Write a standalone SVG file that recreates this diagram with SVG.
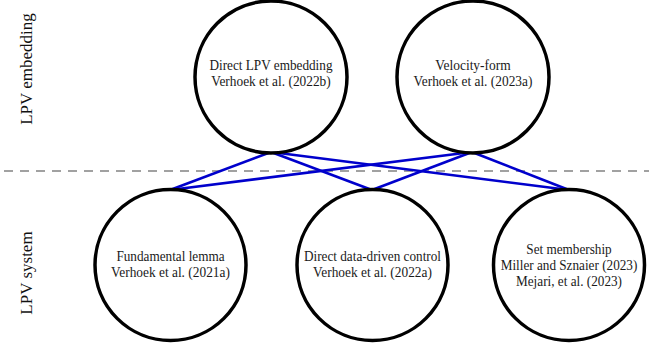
<svg xmlns="http://www.w3.org/2000/svg" width="649" height="347" viewBox="0 0 649 347">
<style>
.node circle { fill: #ffffff; stroke: #000000; stroke-width: 3.5; }
.lbl { font-family: 'Liberation Serif', 'Times New Roman', serif; font-size: 14px; fill: #1a1a1a; text-anchor: middle; }
.edge { stroke: #0000cc; stroke-width: 2.6; fill: none; }
.divider { stroke: #444444; stroke-width: 1.2; stroke-dasharray: 9 7; }
.side { font-family: 'Liberation Serif', 'Times New Roman', serif; font-size: 17px; fill: #111111; text-anchor: middle; }
</style>
<rect width="649" height="347" fill="#ffffff"/>
<line class="divider" x1="4" y1="171" x2="649" y2="171"/>
<text class="side" transform="translate(32,69) rotate(-90)">LPV embedding</text>
<text class="side" transform="translate(32,273) rotate(-90)">LPV system</text>
<g id="connectors">
<line class="edge" x1="271" y1="152" x2="170" y2="190"/>
<line class="edge" x1="271" y1="152" x2="372" y2="190"/>
<line class="edge" x1="271" y1="152" x2="569" y2="190"/>
<line class="edge" x1="472" y1="152" x2="170" y2="190"/>
<line class="edge" x1="472" y1="152" x2="372" y2="190"/>
<line class="edge" x1="472" y1="152" x2="569" y2="190"/>
</g>
<g id="direct-lpv" class="node">
<circle cx="271" cy="77" r="76"/>
<text class="lbl" x="271" y="70" textLength="123" lengthAdjust="spacingAndGlyphs">Direct LPV embedding</text>
<text class="lbl" x="271" y="86" textLength="119.5" lengthAdjust="spacingAndGlyphs">Verhoek et al. (2022b)</text>
</g>
<g id="velocity-form" class="node">
<circle cx="473" cy="77" r="76"/>
<text class="lbl" x="473" y="70" textLength="75.5" lengthAdjust="spacingAndGlyphs">Velocity-form</text>
<text class="lbl" x="473" y="86" textLength="118.8" lengthAdjust="spacingAndGlyphs">Verhoek et al. (2023a)</text>
</g>
<g id="fundamental-lemma" class="node">
<circle cx="170.5" cy="265" r="75.5"/>
<text class="lbl" x="170.5" y="261" textLength="108.2" lengthAdjust="spacingAndGlyphs">Fundamental lemma</text>
<text class="lbl" x="170.5" y="277" textLength="118.8" lengthAdjust="spacingAndGlyphs">Verhoek et al. (2021a)</text>
</g>
<g id="direct-ddc" class="node">
<circle cx="372.5" cy="265" r="75.5"/>
<text class="lbl" x="372.5" y="261" textLength="137" lengthAdjust="spacingAndGlyphs">Direct data-driven control</text>
<text class="lbl" x="372.5" y="277" textLength="118.8" lengthAdjust="spacingAndGlyphs">Verhoek et al. (2022a)</text>
</g>
<g id="set-membership" class="node">
<circle cx="569" cy="265" r="75.5"/>
<text class="lbl" x="569" y="254" textLength="85.4" lengthAdjust="spacingAndGlyphs">Set membership</text>
<text class="lbl" x="569" y="270" textLength="136.7" lengthAdjust="spacingAndGlyphs">Miller and Sznaier (2023)</text>
<text class="lbl" x="569" y="286" textLength="106" lengthAdjust="spacingAndGlyphs">Mejari, et al. (2023)</text>
</g>
</svg>
